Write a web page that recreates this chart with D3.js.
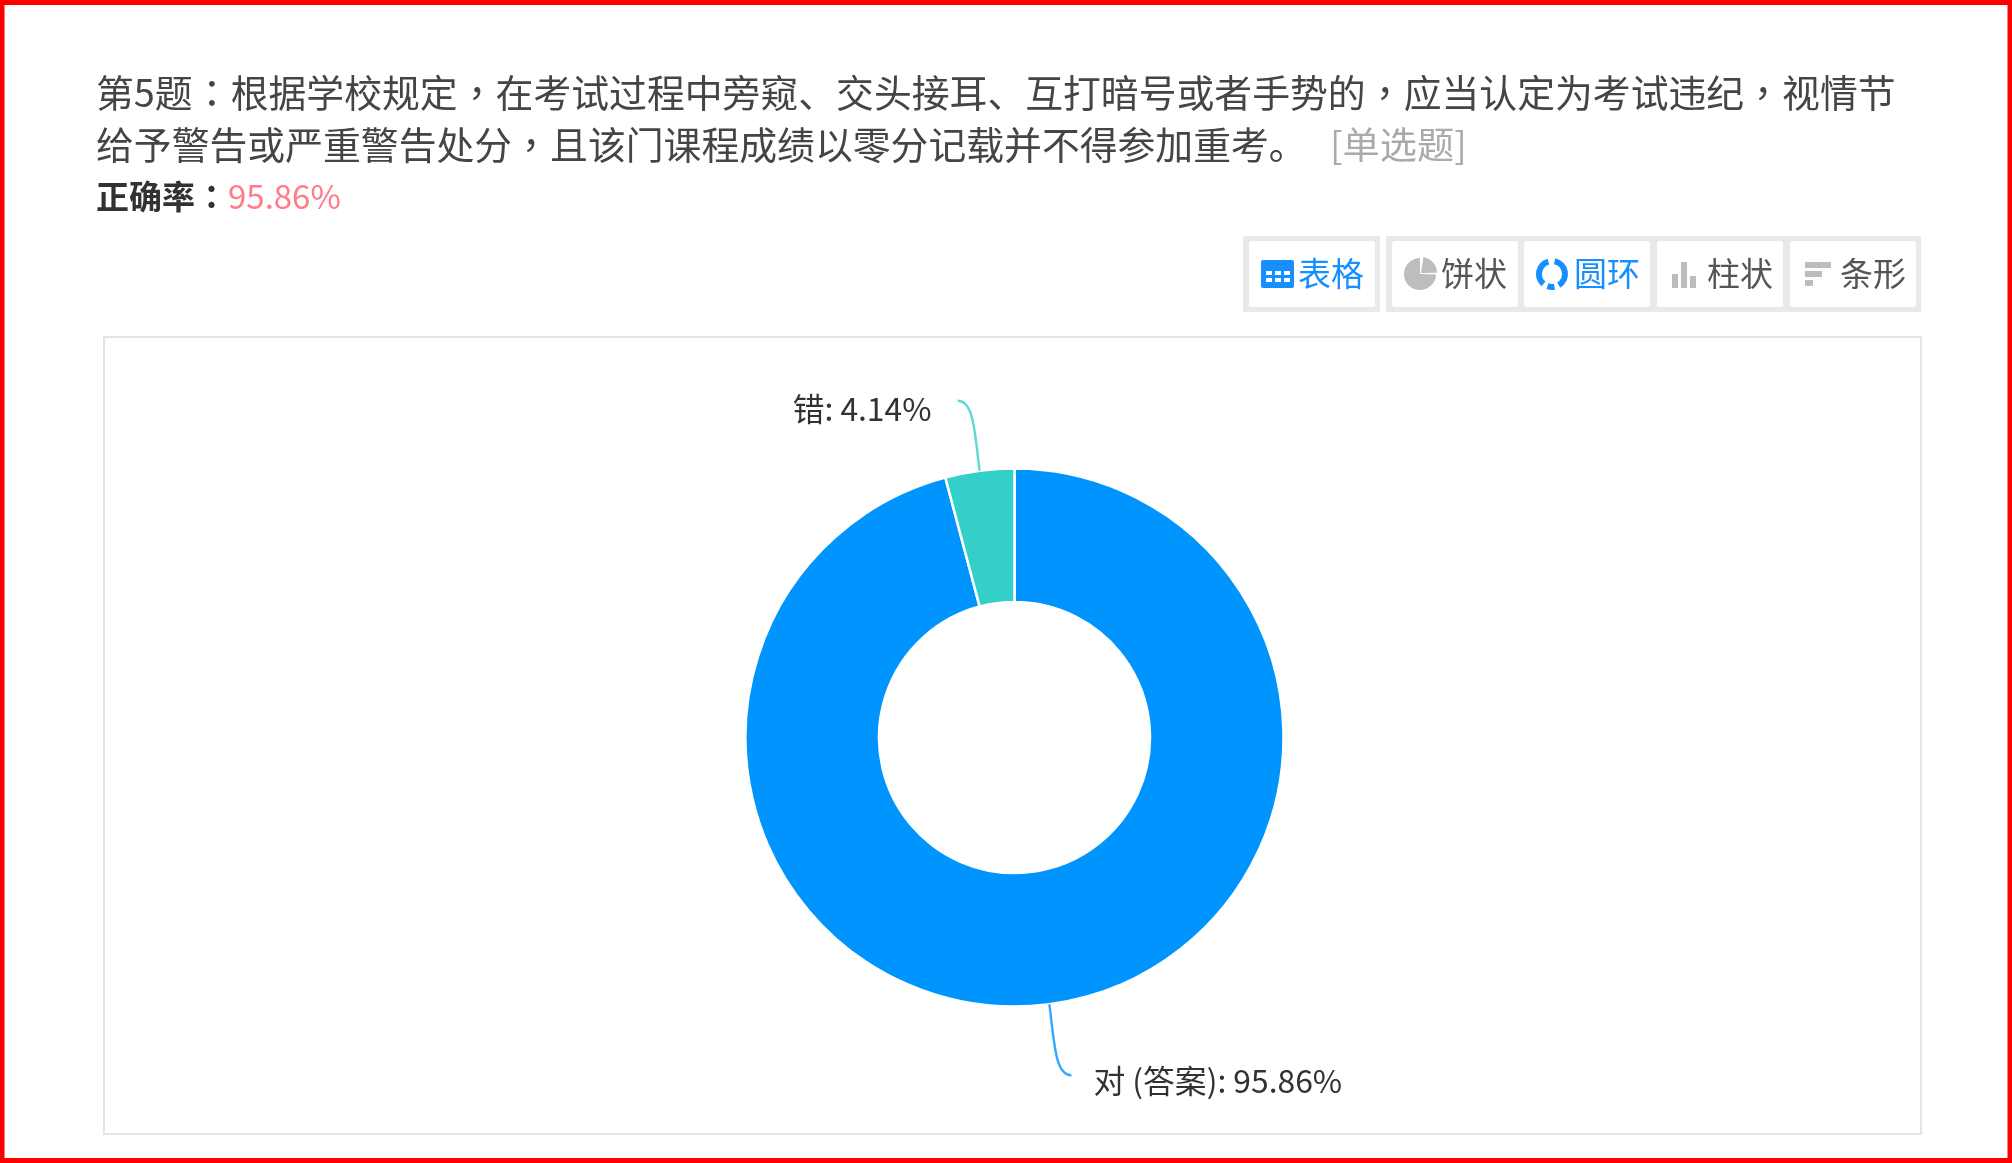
<!DOCTYPE html>
<html><head><meta charset="utf-8">
<script src="https://cdnjs.cloudflare.com/ajax/libs/d3/7.8.5/d3.min.js"></script>
<style>
@font-face{font-family:"CenterPunct";src:local("Noto Sans CJK TC"),local("Noto Sans CJK TC Regular");unicode-range:U+FF0C,U+FF1A;font-weight:400}
@font-face{font-family:"CenterPunct";src:local("Noto Sans CJK TC Bold");unicode-range:U+FF0C,U+FF1A;font-weight:700}
html,body{margin:0;padding:0;background:#fff}svg{display:block}
text{font-family:"CenterPunct","Noto Sans CJK SC","Noto Sans",sans-serif}</style></head>
<body><svg id="c" width="2012" height="1163"></svg>
<script>
const categories = ["对 (答案)", "错"];
const values = [95.86, 4.14];
const colors = ["#0094ff", "#36cfc9"];
const titleLines = ["第5题：根据学校规定，在考试过程中旁窥、交头接耳、互打暗号或者手势的，应当认定为考试违纪，视情节",
                    "给予警告或严重警告处分，且该门课程成绩以零分记载并不得参加重考。"];
const questionType = "[单选题]";
const rateLabel = "正确率：";
const rateValue = "95.86%";
const buttonLabels = ["表格", "饼状", "圆环", "柱状", "条形"];

const svg = d3.select("#c");
const defs = svg.append("defs");
defs.append("filter").attr("id","soft").append("feGaussianBlur").attr("stdDeviation",0.55);
const root = svg.append("g").attr("filter","url(#soft)");

// title block
const head = root.append("g");
head.selectAll("text.t").data(titleLines).join("text").attr("class","t")
  .attr("x",96).attr("y",(d,i)=>107+i*52).attr("font-size",37.85).attr("fill","#444").text(d=>d);
head.append("text").attr("x",1330).attr("y",159).attr("font-size",37.2).attr("fill","#aaa").text(questionType);
head.append("text").attr("x",96).attr("y",209).attr("font-size",33).attr("font-weight",700).attr("fill","#333").text(rateLabel);
head.append("text").attr("x",228).attr("y",209).attr("font-size",33).attr("fill","#ff7c88").text(rateValue);

// toolbar
const groups = [{x:1243,w:137},{x:1386,w:535}];
root.selectAll("rect.grp").data(groups).join("rect").attr("class","grp")
  .attr("x",d=>d.x).attr("y",236).attr("width",d=>d.w).attr("height",76).attr("fill","#e9e9e9");
const btnX = [1249,1392,1524,1657,1790];
const active = [true,false,true,false,false];
const blue = "#1890ff", grey = "#bdbdbd";
const btn = root.selectAll("g.btn").data(buttonLabels).join("g").attr("class","btn")
  .attr("transform",(d,i)=>`translate(${btnX[i]},241)`);
btn.append("rect").attr("width",126).attr("height",66).attr("rx",3).attr("fill","#fff");
btn.append("text").attr("x",(d,i)=>[49,49,50,50,50][i]).attr("y",45).attr("font-size",33)
  .attr("fill",(d,i)=>active[i]?blue:"#555").text(d=>d);
// icons
const ic0 = d3.select(btn.nodes()[0]).append("g").attr("transform","translate(12,19)");
ic0.append("rect").attr("width",33).attr("height",28).attr("rx",2).attr("fill",blue);
ic0.selectAll("rect.dot").data(d3.range(6)).join("rect").attr("class","dot")
  .attr("x",d=>5+(d%3)*9).attr("y",d=>11+Math.floor(d/3)*7).attr("width",6).attr("height",4).attr("fill","#fff");
const ic1 = d3.select(btn.nodes()[1]).append("g").attr("transform","translate(28,33)");
ic1.append("path").attr("d",d3.arc()({innerRadius:0,outerRadius:16,startAngle:0.15,endAngle:1.55})).attr("fill",grey).attr("transform","translate(1,-1)");
ic1.append("path").attr("d",d3.arc()({innerRadius:0,outerRadius:16,startAngle:1.6,endAngle:6.28})).attr("fill",grey);
const ic2 = d3.select(btn.nodes()[2]).append("g").attr("transform","translate(28,33)");
[[0.2,2.6],[2.95,3.5],[3.85,6.0]].forEach(a=>ic2.append("path")
  .attr("d",d3.arc()({innerRadius:10,outerRadius:16,startAngle:a[0],endAngle:a[1]})).attr("fill",blue));
const ic3 = d3.select(btn.nodes()[3]).append("g").attr("transform","translate(15,21)");
[[0,14],[9,26],[18,12]].forEach(b=>ic3.append("rect").attr("x",b[0]).attr("y",26-b[1]).attr("width",6).attr("height",b[1]).attr("fill",grey));
const ic4 = d3.select(btn.nodes()[4]).append("g").attr("transform","translate(15,21)");
[[0,26],[9,17],[18,8]].forEach(b=>ic4.append("rect").attr("x",0).attr("y",b[0]).attr("width",b[1]).attr("height",6).attr("fill",grey));

// panel
root.append("rect").attr("x",104).attr("y",337).attr("width",1817).attr("height",797)
  .attr("fill","#fff").attr("stroke","#e4e4e4").attr("stroke-width",2);

// donut
const cx=1014.5, cy=737.5, R=269, r=135.5;
const pie = d3.pie().sort(null).value(d=>d)(values);
const arc = d3.arc().innerRadius(r).outerRadius(R);
const g = root.append("g").attr("transform",`translate(${cx},${cy})`);
g.selectAll("path.s").data(pie).join("path").attr("class","s")
  .attr("d",arc).attr("fill",(d,i)=>colors[i]).attr("stroke","#fff").attr("stroke-width",2.5);

// leader lines + labels, positioned from each slice's mid-angle
const pct = d3.format(".2f");
const lineOff = [[22,71],[-22,-70]];
const textAnchor = [[22,18],[-165,20]];
pie.forEach((d,i)=>{
  const a=(d.startAngle+d.endAngle)/2, px=Math.sin(a)*R, py=-Math.cos(a)*R;
  const ex=px+lineOff[i][0], ey=py+lineOff[i][1];
  const p=d3.path(); p.moveTo(px,py);
  p.bezierCurveTo(px+Math.sin(a)*38,py-Math.cos(a)*38, px+lineOff[i][0]*0.25,ey, ex,ey);
  g.append("path").attr("d",p.toString()).attr("fill","none").attr("stroke",colors[i]).attr("stroke-width",2.4).attr("opacity",.8);
  g.append("text").attr("x",ex+textAnchor[i][0]).attr("y",ey+textAnchor[i][1])
    .attr("font-size",31.8).attr("fill","#333").text(`${categories[i]}: ${pct(values[i])}%`);
});

// red frame
svg.append("rect").attr("x",2).attr("y",2.5).attr("width",2008).attr("height",1158)
  .attr("fill","none").attr("stroke","#f00").attr("stroke-width",5);
</script></body></html>
